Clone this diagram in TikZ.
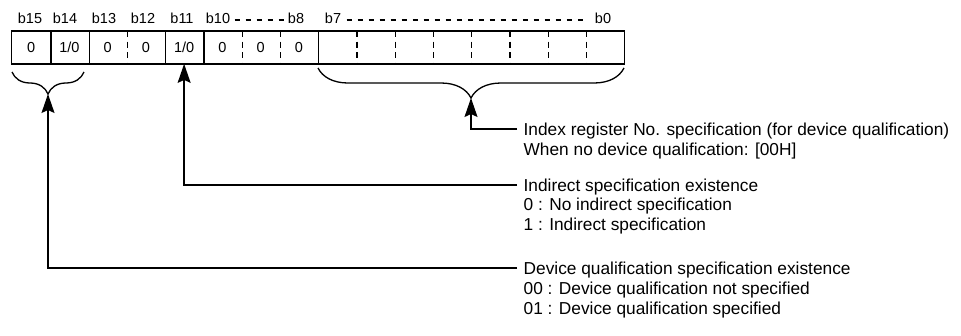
\documentclass[tikz,border=0pt]{standalone}
\usepackage{fontspec}
\setmainfont{Liberation Sans}
\usetikzlibrary{arrows.meta,decorations.pathreplacing}
\begin{document}
\begin{tikzpicture}[x=1pt,y=-1pt, line width=1.3pt,
  lbl/.style={inner sep=0pt, font=\fontsize{14.5}{16}\selectfont},
  cell/.style={minimum width=38.25pt, minimum height=31.5pt, inner sep=0pt, font=\fontsize{14.5}{16}\selectfont},
  desc/.style={anchor=west, inner xsep=6pt, inner ysep=0pt, text height=12.4pt, text depth=0pt, font=\fontsize{17.3}{20}\selectfont},
  divs/.style={line width=1.3pt},
  divd/.style={line width=1.3pt, dash pattern=on 6pt off 4.5pt},
  topdash/.style={line width=1.2pt, dash pattern=on 5pt off 6pt},
  arr/.style={-{Stealth[length=19pt,width=13pt,inset=3pt]}, line width=1.3pt},
  brc/.style={decorate, decoration={brace, mirror, amplitude=#1}, line width=1.3pt}
]
\useasboundingbox (0,0) rectangle (961,335);
% cells
\node[cell] (c15) at ({12+38.25*0+19.125},47.5) {0};
\node[cell] (c14) at ({12+38.25*1+19.125},47.5) {1/0};
\node[cell] (c13) at ({12+38.25*2+19.125},47.5) {0};
\node[cell] (c12) at ({12+38.25*3+19.125},47.5) {0};
\node[cell] (c11) at ({12+38.25*4+19.125},47.5) {1/0};
\node[cell] (c10) at ({12+38.25*5+19.125},47.5) {0};
\node[cell] (c9) at ({12+38.25*6+19.125},47.5) {0};
\node[cell] (c8) at ({12+38.25*7+19.125},47.5) {0};
\node[cell] (c7) at ({12+38.25*8+19.125},47.5) {};
\node[cell] (c6) at ({12+38.25*9+19.125},47.5) {};
\node[cell] (c5) at ({12+38.25*10+19.125},47.5) {};
\node[cell] (c4) at ({12+38.25*11+19.125},47.5) {};
\node[cell] (c3) at ({12+38.25*12+19.125},47.5) {};
\node[cell] (c2) at ({12+38.25*13+19.125},47.5) {};
\node[cell] (c1) at ({12+38.25*14+19.125},47.5) {};
\node[cell] (c0) at ({12+38.25*15+19.125},47.5) {};
\draw[divs] (c15.north west) rectangle (c0.south east);
\foreach \c in {c15,c14,c12,c11,c8} \draw[divs] (\c.north east) -- (\c.south east);
\foreach \c in {c13,c10,c9,c7,c6,c5,c4,c3,c2,c1} \draw[divd] (\c.north east) -- (\c.south east);
% bit labels
\node[lbl] (l15) at (30,18) {b15};
\node[lbl] (l14) at (65,18) {b14};
\node[lbl] (l13) at (104,18) {b13};
\node[lbl] (l12) at (143,18) {b12};
\node[lbl] (l11) at (182,18) {b11};
\node[lbl] (l10) at (218,18) {b10};
\node[lbl] (l8) at (296,18) {b8};
\node[lbl] (l7) at (333,18) {b7};
\node[lbl] (l0) at (603,18) {b0};
\draw[topdash] ([shift={(4,2)}]l10.east) -- ([shift={(-2,2)}]l8.west);
\draw[topdash] ([shift={(5,2)}]l7.east) -- ([shift={(-6,2)}]l0.west);
% braces
\coordinate (lb1) at (12,72);
\coordinate (lb2) at (84,72);
\coordinate (ltip) at (48,94);
\coordinate (rb1) at (318,68);
\coordinate (rb2) at (624,68);
\coordinate (rtip) at (471,98);
\draw[brc=22] (lb1) -- (lb2);
\draw[brc=30] (rb1) -- (rb2);
% descriptions
\node[desc] (idx1) at (517,129) {Index register No. specification (for device qualification)};
\node[desc] (idx2) at (517,149) {When no device qualification: [00H]};
\node[desc] (ind1) at (517,185) {Indirect specification existence};
\node[desc] (ind2) at (517,204.5) {0 : No indirect specification};
\node[desc] (ind3) at (517,224) {1 : Indirect specification};
\node[desc] (dev1) at (517,268) {Device qualification specification existence};
\node[desc] (dev2) at (517,288) {00 : Device qualification not specified};
\node[desc] (dev3) at (517,308) {01 : Device qualification specified};
% connectors
\draw[arr] (idx1.west) -| (rtip);
\draw[arr] (ind1.west) -| (c11.south);
\draw[arr] (dev1.west) -| (ltip);
\end{tikzpicture}
\end{document}
